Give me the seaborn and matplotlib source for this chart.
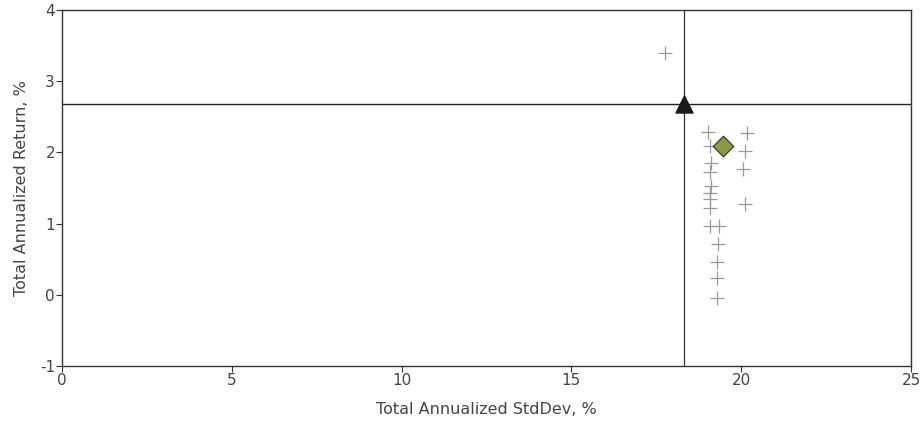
"""Risk/return scatter: annualized std dev vs annualized return."""

import matplotlib

matplotlib.use("Agg")
import matplotlib.pyplot as plt
import pandas as pd
import seaborn as sns

# peer funds (grey crosses)
peer_stdev = [17.76, 19.01, 20.16, 19.08, 20.11, 19.10, 20.06, 19.08, 19.10, 19.08,
              19.08, 19.08, 20.11, 19.08, 19.36, 19.33, 19.30, 19.30, 19.30]
peer_return = [3.40, 2.28, 2.27, 2.09, 2.02, 1.85, 1.76, 1.72, 1.53, 1.43,
               1.34, 1.22, 1.28, 0.96, 0.97, 0.72, 0.46, 0.23, -0.05]

# fund (olive diamond) and benchmark (black triangle)
fund_stdev, fund_return = 19.46, 2.09
bench_stdev, bench_return = 18.33, 2.68

x_ticks = [0, 5, 10, 15, 20, 25]
y_ticks = [-1, 0, 1, 2, 3, 4]

peers = pd.DataFrame({"stdev": peer_stdev, "ret": peer_return})

sns.set_style("white")
plt.rcParams["font.family"] = ["DejaVu Sans"]

fig = plt.figure(figsize=(9.22, 4.25), dpi=100)
ax = fig.add_axes([62 / 922, 1 - 366 / 425, (911 - 62) / 922, (366 - 10) / 425])

ax.axhline(bench_return, color="#222222", lw=1.0, zorder=1)
ax.axvline(bench_stdev, color="#333333", lw=0.9, zorder=1)

sns.scatterplot(data=peers, x="stdev", y="ret", marker="+", s=90,
                color="#9a9a9a", linewidth=0.9, ax=ax, zorder=2)
ax.scatter([bench_stdev], [bench_return], marker="^", s=150,
           color="#1a1a1a", zorder=4)
ax.scatter([fund_stdev], [fund_return], marker="D", s=110,
           color="#8b9a46", edgecolor="#2a2a2a", linewidth=0.8, zorder=5)

ax.set_xlim(0, 25)
ax.set_ylim(-1, 4)
ax.set_xticks(x_ticks)
ax.set_yticks(y_ticks)
ax.set_xticklabels([str(t) for t in x_ticks])
ax.set_yticklabels([str(t) for t in y_ticks])
ax.tick_params(axis="both", direction="out", length=4, width=0.8,
               colors="#333333", labelsize=11, pad=1)
ax.tick_params(axis="x", labelcolor="#444444")
ax.tick_params(axis="y", labelcolor="#444444")
ax.tick_params(left=True, bottom=True)
for sp in ax.spines.values():
    sp.set_color("#333333")
    sp.set_linewidth(1.0)

ax.set_xlabel("Total Annualized StdDev, %", fontsize=11.5, color="#444444", labelpad=10)
ax.set_ylabel("Total Annualized Return, %", fontsize=11.5, color="#444444", labelpad=8)

fig.savefig("out.png", dpi=100)
